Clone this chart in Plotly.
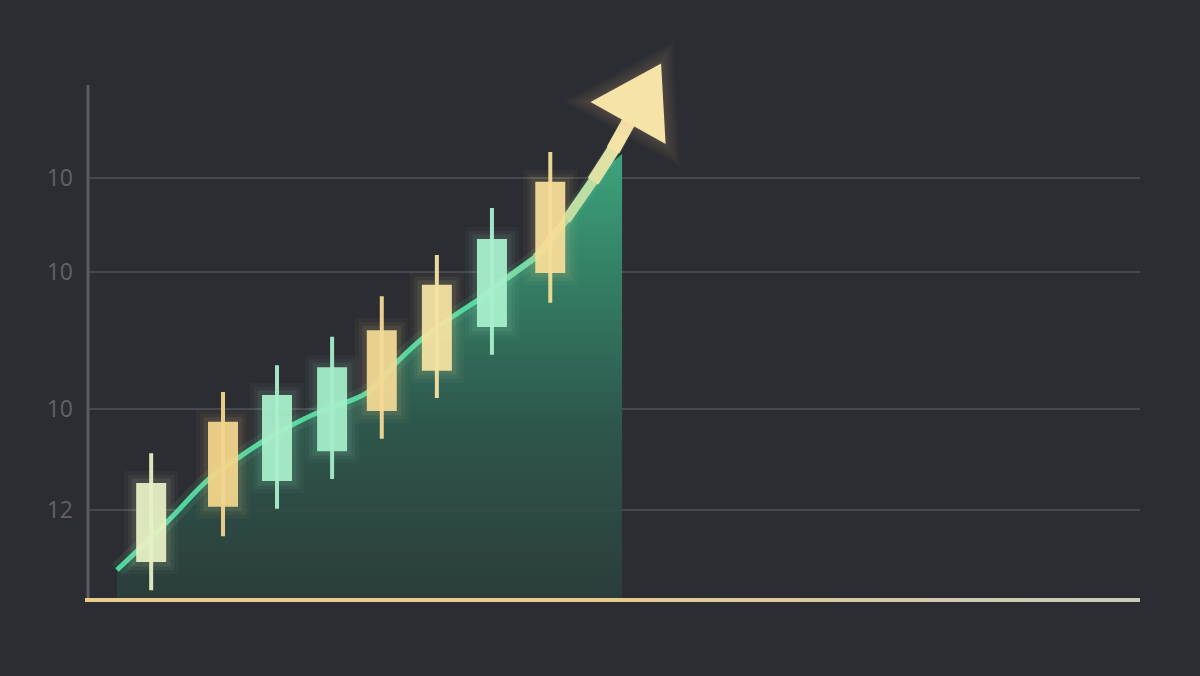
import numpy as np
import plotly.graph_objects as go

# ---------------- data ----------------
candle_x = [1.17, 2.50, 3.50, 4.52, 5.44, 6.46, 7.48, 8.56]
body_low = [7.4, 18.1, 23.1, 28.9, 36.7, 44.5, 53.0, 63.5]
body_high = [22.7, 34.6, 39.8, 45.2, 52.4, 61.2, 70.1, 81.2]
wick_low = [1.9, 12.4, 17.7, 23.5, 31.3, 39.2, 47.6, 57.7]
wick_high = [28.5, 40.4, 45.6, 51.1, 59.0, 67.0, 76.1, 87.0]
candle_colors = ["#e6f0c4", "#f2d48c", "#a8efca", "#a4eec8",
                 "#f2d995", "#f4e2a2", "#a8f0cc", "#f5dc98"]

trend_x = [0.537, 1.463, 2.241, 2.778, 3.222, 3.778, 4.241, 4.796, 5.185,
           5.722, 6.204, 6.741, 7.222, 7.759, 8.296, 8.852, 9.352, 9.722, 10.0]
trend_y = [5.83, 15.15, 23.50, 27.57, 30.68, 33.98, 36.31, 38.45, 40.39,
           46.21, 50.87, 54.95, 58.25, 62.52, 66.60, 73.79, 81.36, 87.38, 92.62]

area_end_x = 9.89
area_end_y = 86.6

tick_vals = [17.5, 37.1, 63.7, 81.9]
tick_text = ["12", "10", "10", "10"]

# ---------------- layout constants ----------------
W, H = 1200, 676
ML, MR, MT, MB = 88, 60, 40, 76
X_RANGE = [0, 19.48]
Y_RANGE = [0, 108.74]
SX = (W - ML - MR) / (X_RANGE[1] - X_RANGE[0])   # px per x unit
SY = (H - MT - MB) / (Y_RANGE[1] - Y_RANGE[0])   # px per y unit
BG = "#2c2d32"


def hex2rgb(h):
    h = h.lstrip("#")
    return tuple(int(h[i:i + 2], 16) for i in (0, 2, 4))


def mix(c1, c2, t):
    a, b = hex2rgb(c1), hex2rgb(c2)
    return "rgb(%d,%d,%d)" % tuple(round(a[i] + (b[i] - a[i]) * t) for i in range(3))


def rgba(h, a):
    r, g, b = hex2rgb(h)
    return "rgba(%d,%d,%d,%.3f)" % (r, g, b, a)


fig = go.Figure()

# ---------------- green area ----------------
n_area = sum(1 for x in trend_x if x <= 9.72)
ax = trend_x[:n_area] + [area_end_x]
ay = trend_y[:n_area] + [area_end_y]
fig.add_trace(go.Scatter(
    x=ax, y=ay, mode="none", fill="tozeroy", line=dict(shape="spline"),
    fillgradient=dict(type="vertical",
                      colorscale=[[0, "rgba(43,62,59,0.93)"],
                                  [0.4, "rgba(46,90,78,0.93)"],
                                  [0.75, "rgba(53,136,106,0.94)"],
                                  [1, "rgba(62,168,128,0.96)"]]),
    hoverinfo="skip"))

# ---------------- trend line ----------------
split = 12  # index where the colour starts to warm up
fig.add_trace(go.Scatter(x=trend_x, y=trend_y, mode="lines",
                         line=dict(color="rgba(90,220,160,0.10)", width=16, shape="spline"),
                         hoverinfo="skip"))
fig.add_trace(go.Scatter(x=trend_x[:split + 1], y=trend_y[:split + 1], mode="lines",
                         line=dict(color="#52d6a0", width=5, shape="spline"),
                         hoverinfo="skip"))
for i in range(split, len(trend_x) - 1):
    ym = 0.5 * (trend_y[i] + trend_y[i + 1])
    t = float(np.clip((ym - 58) / (88 - 58), 0, 1))
    col = mix("#52d6a0", "#f4e2a6", t)
    wdt = 5 + 9 * t ** 1.4
    fig.add_trace(go.Scatter(x=trend_x[i:i + 2], y=trend_y[i:i + 2], mode="lines",
                             line=dict(color=col, width=wdt), hoverinfo="skip"))
    fig.add_trace(go.Scatter(x=[trend_x[i + 1]], y=[trend_y[i + 1]], mode="markers",
                             marker=dict(color=col, size=wdt, line=dict(width=0)),
                             hoverinfo="skip"))

# ---------------- arrow head ----------------
bx, by = trend_x[-1], trend_y[-1]
dxp = (trend_x[-1] - trend_x[-2]) * SX
dyp = (trend_y[-1] - trend_y[-2]) * SY
nrm = np.hypot(dxp, dyp)
ux, uy = dxp / nrm, dyp / nrm
px_, py_ = uy, -ux
head_len, half_w = 68, 43


def head(scale):
    pts = [(head_len * ux, head_len * uy),
           (half_w * px_, half_w * py_),
           (-half_w * px_, -half_w * py_)]
    cx = sum(p[0] for p in pts) / 3
    cy = sum(p[1] for p in pts) / 3
    xs, ys = [], []
    for p in pts:
        xs.append(bx + (cx + (p[0] - cx) * scale) / SX)
        ys.append(by + (cy + (p[1] - cy) * scale) / SY)
    return xs + [xs[0]], ys + [ys[0]]


for s in np.linspace(1.55, 1.05, 8):
    hx, hy = head(s)
    fig.add_trace(go.Scatter(x=hx, y=hy, mode="none", fill="toself",
                             fillcolor=rgba("#f4e2a6", 0.022), hoverinfo="skip"))
hx, hy = head(1.0)
fig.add_trace(go.Scatter(x=hx, y=hy, mode="none", fill="toself",
                         fillcolor="#f5e3a7", hoverinfo="skip"))

# ---------------- candles (drawn as thick vertical lines) ----------------
for cx, bl, bh, wl, wh, col in zip(candle_x, body_low, body_high, wick_low, wick_high,
                                   candle_colors):
    for k, a in [(24, 0.035), (16, 0.05), (9, 0.08)]:
        ext = (k / 2) / SY
        fig.add_trace(go.Scatter(x=[cx, cx], y=[bl - ext, bh + ext], mode="lines",
                                 line=dict(color=rgba(col, a), width=30 + k),
                                 hoverinfo="skip"))
    fig.add_trace(go.Scatter(x=[cx, cx], y=[wl, wh], mode="lines",
                             line=dict(color=col, width=4), opacity=0.95,
                             hoverinfo="skip"))
    fig.add_trace(go.Scatter(x=[cx, cx], y=[bl, bh], mode="lines",
                             line=dict(color=col, width=30), opacity=0.94,
                             hoverinfo="skip"))

# ---------------- axis lines ----------------
def yfrac(v):
    return (v - Y_RANGE[0]) / (Y_RANGE[1] - Y_RANGE[0])


shapes = [dict(type="line", xref="paper", yref="paper", x0=0, x1=0, y0=0, y1=yfrac(100),
               line=dict(color="#5a5c61", width=3))]
nseg = 40
x_start = -3 / (W - ML - MR)
for i in range(nseg):
    x0 = x_start + (1 - x_start) * i / nseg
    x1 = x_start + (1 - x_start) * (i + 1) / nseg
    t = i / (nseg - 1)
    tt = float(np.clip((t - 0.45) / 0.5, 0, 1))
    shapes.append(dict(type="line", xref="paper", yref="paper", x0=x0,
                       x1=min(x1 + 0.002, 1), y0=0, y1=0,
                       line=dict(color=mix("#e9cb8a", "#c9cab8", tt), width=4)))

fig.update_layout(
    width=W, height=H,
    margin=dict(l=ML, r=MR, t=MT, b=MB),
    paper_bgcolor=BG, plot_bgcolor=BG,
    showlegend=False,
    shapes=shapes,
    xaxis=dict(range=X_RANGE, showgrid=False, zeroline=False, showticklabels=False,
               showline=False, fixedrange=True),
    yaxis=dict(range=Y_RANGE, tickvals=tick_vals, ticktext=tick_text,
               showgrid=True, gridcolor="#46484d", gridwidth=1.5, zeroline=False,
               showline=False, ticks="", ticklabelstandoff=14,
               tickfont=dict(family="Open Sans", size=23, color="#606267"),
               fixedrange=True),
)

fig.write_html("out.html",
               config={"displayModeBar": False, "staticPlot": True},
               post_script="document.body.style.margin='0';"
                           "document.body.style.background='%s';" % BG)
